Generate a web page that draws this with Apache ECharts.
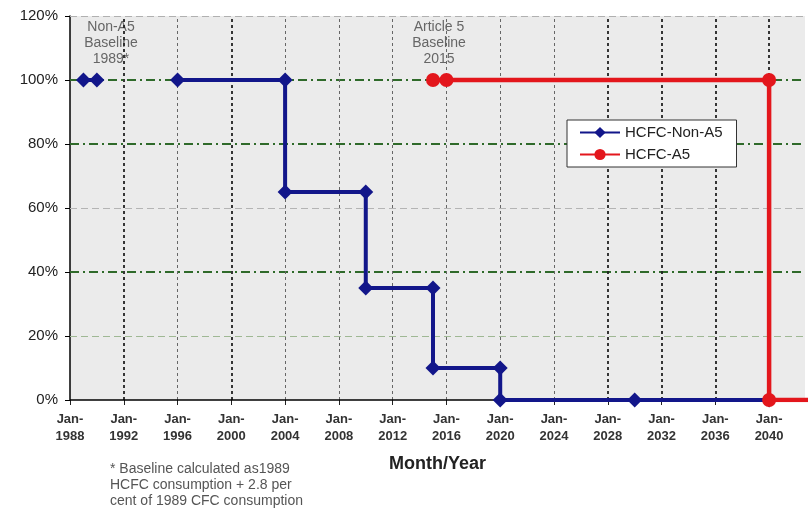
<!DOCTYPE html>
<html>
<head>
<meta charset="utf-8">
<script src="https://cdn.jsdelivr.net/npm/echarts@6/dist/echarts.min.js"></script>
<style>
html,body{margin:0;padding:0;background:#fff;}
#chart{width:808px;height:512px;}
</style>
</head>
<body>
<div id="chart"></div>
<script>
// ---- data ----
const seriesNames = ['HCFC-Non-A5', 'HCFC-A5'];
const nonA5Years = [1989, 1990, 1990, 1996, 2004, 2004, 2010, 2010, 2015, 2015, 2020, 2020, 2030, 2040];
const nonA5Pct   = [100, 100, null, 100, 100, 65, 65, 35, 35, 10, 10, 0, 0, 0];
const a5Years = [2015, 2016, 2040, 2040, 2044];
const a5Pct   = [100, 100, 100, 0, 0];
const yTicks = [0, 20, 40, 60, 80, 100, 120];
const xTicks = [1988, 1992, 1996, 2000, 2004, 2008, 2012, 2016, 2020, 2024, 2028, 2032, 2036, 2040];
const darkXLines = [1992, 2000, 2028, 2032, 2036, 2040];
const xTickStart = 1988, xTickStep = 4, xMax = 2042.67;
const annotations = ['Non-A5\nBaseline\n1989*', 'Article 5\nBaseline\n2015'];
const footnote = '* Baseline calculated as1989\nHCFC consumption + 2.8 per\ncent of 1989 CFC consumption';
const xTitle = 'Month/Year';

function pairs(xs, ys) {
  return xs.map((x, i) => [x, ys[i] === null ? '-' : ys[i]]);
}

const FONT = 'Arial, "Liberation Sans", sans-serif';
const green = '#2f6a2a';
const hStyles = {
  20: {color: '#9fb894', type: [7, 4], width: 1},
  40: {color: green, type: [9, 4, 2, 4], width: 2},
  60: {color: '#b4b4b4', type: [7, 4], width: 1},
  80: {color: green, type: [9, 4, 2, 4], width: 2},
  100: {color: green, type: [9, 4, 2, 4], width: 2},
  120: {color: '#b0b0b0', type: [7, 4], width: 1}
};
const vDark = {color: '#222', type: [3, 3], width: 1.8};
const vLight = {color: '#666', type: [3, 3], width: 1};

const chart = echarts.init(document.getElementById('chart'), null, {renderer: 'canvas'});
chart.setOption({
  animation: false,
  backgroundColor: '#ffffff',
  textStyle: {fontFamily: FONT},
  grid: {
    left: 70, top: 16, bottom: 112, right: 0,
    show: true, backgroundColor: '#ebebeb', borderWidth: 0
  },
  legend: {
    orient: 'vertical',
    left: 567, top: 120, z: 10,
    backgroundColor: '#ffffff',
    borderColor: '#333', borderWidth: 1,
    padding: [5, 14, 5, 12],
    itemWidth: 40, itemHeight: 14, itemGap: 7,
    textStyle: {fontSize: 15, color: '#222', fontFamily: FONT},
    data: seriesNames
  },
  xAxis: {
    type: 'value',
    min: xTickStart, max: xMax, interval: xTickStep,
    axisLine: {show: false},
    axisTick: {show: true, length: 5, lineStyle: {color: '#222'}, customValues: xTicks},
    axisLabel: {
      margin: 11,
      fontSize: 13, fontWeight: 'bold', color: '#333', lineHeight: 17,
      formatter: v => (v % 4 === 0) ? 'Jan-\n' + v : ''
    },
    splitLine: {show: false},
    name: xTitle, nameLocation: 'middle', nameGap: 55,
    nameTextStyle: {fontSize: 18, fontWeight: 'bold', color: '#222'}
  },
  yAxis: {
    type: 'value', min: 0, max: 120, interval: 20,
    axisLine: {show: true, lineStyle: {color: '#000', width: 1.5}},
    axisTick: {show: true, length: 5, lineStyle: {color: '#000'}},
    axisLabel: {margin: 12, fontSize: 15, color: '#222', formatter: '{value}%'},
    splitLine: {show: false}
  },
  series: [
    {
      type: 'line', name: '_grid', data: [], silent: true, z: 1,
      markLine: {
        z: 1, silent: true, symbol: 'none', label: {show: false}, animation: false,
        data: yTicks.filter(v => v > 0).map(v => ({yAxis: v, lineStyle: hStyles[v]}))
          .concat(xTicks.filter(v => v > xTickStart).map(v => ({xAxis: v, lineStyle: darkXLines.includes(v) ? vDark : vLight})))
      }
    },
    {
      type: 'line', name: '_xaxis', data: [], silent: true, z: 2,
      markLine: {
        z: 2, silent: true, symbol: 'none', label: {show: false}, animation: false,
        data: [{yAxis: 0, lineStyle: {color: '#000', type: 'solid', width: 1.5}}]
      }
    },
    {
      type: 'line', name: seriesNames[0], z: 3,
      data: pairs(nonA5Years, nonA5Pct),
      connectNulls: false,
      color: '#12168a',
      lineStyle: {width: 4, color: '#12168a'},
      symbol: 'diamond', symbolSize: 15, showAllSymbol: true,
      itemStyle: {color: '#12168a'}
    },
    {
      type: 'line', name: seriesNames[1], z: 4,
      data: pairs(a5Years, a5Pct),
      color: '#e3161c',
      lineStyle: {width: 4.5, color: '#e3161c'},
      symbol: 'circle', symbolSize: 14, showAllSymbol: true,
      itemStyle: {color: '#e3161c'}
    }
  ],
  graphic: [
    {type: 'text', x: 111, y: 19, z: 0, style: {text: annotations[0], fill: '#666', font: '14px ' + FONT, align: 'center', lineHeight: 16}},
    {type: 'text', x: 439, y: 19, z: 0, style: {text: annotations[1], fill: '#666', font: '14px ' + FONT, align: 'center', lineHeight: 16}},
    {type: 'text', x: 110, y: 461, style: {text: footnote, fill: '#555', font: '14px ' + FONT, lineHeight: 16}}
  ]
});
</script>
</body>
</html>
